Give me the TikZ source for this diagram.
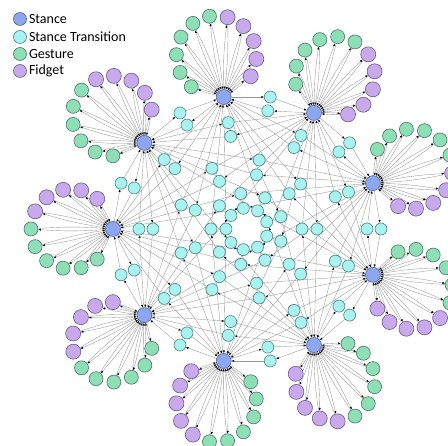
\documentclass[tikz,border=0pt]{standalone}
\usepackage{fontspec}
\setmainfont{Carlito}
\usetikzlibrary{arrows.meta,positioning,backgrounds}
\definecolor{stancefill}{RGB}{140,166,240}
\definecolor{stanceline}{RGB}{80,96,150}
\definecolor{transfill}{RGB}{168,242,240}
\definecolor{transline}{RGB}{70,130,135}
\definecolor{gesturefill}{RGB}{142,222,182}
\definecolor{gestureline}{RGB}{70,120,100}
\definecolor{fidgetfill}{RGB}{200,170,236}
\definecolor{fidgetline}{RGB}{105,90,135}
\definecolor{linkgray}{RGB}{150,150,150}
\tikzset{
  stance/.style={circle, draw=stanceline, fill=stancefill, line width=0.6pt, inner sep=0pt, minimum size=15pt},
  transition/.style={circle, draw=transline, fill=transfill, line width=0.6pt, inner sep=0pt, minimum size=12pt},
  gesture/.style={circle, draw=gestureline, fill=gesturefill, line width=0.6pt, inner sep=0pt, minimum size=14pt},
  fidget/.style={circle, draw=fidgetline, fill=fidgetfill, line width=0.6pt, inner sep=0pt, minimum size=15pt},
  link/.style={draw=linkgray, line width=0.35pt, -{Latex[length=2.6pt,width=2.2pt,color=black]}},
  legendtext/.style={font=\fontsize{14}{16}\selectfont, inner sep=0pt}
}

\begin{document}
\begin{tikzpicture}[x=1pt,y=1pt]
\useasboundingbox (0,0) rectangle (448,446);
\begin{scope}[shift={(247,217)}]
\foreach \k in {0,...,8}
  \node[stance] (s\k) at ({20+40*\k}:134) {};
\foreach \d/\rin/\rout in {1/120/134,2/94/108,3/55/70,4/21/36}
  \foreach \k in {0,...,8} {
    \node[transition] (t\d-\k-a) at ({20+40*\k+20*\d}:\rin) {};
    \node[transition] (t\d-\k-b) at ({20+40*\k+20*\d}:\rout) {};
  }
\foreach \k in {0,...,8}
  \foreach \j in {0,...,10} {
    \pgfmathsetmacro\fanang{200+40*\k-49-26.2*\j}
    \ifnum\j<6 \def\fankind{gesture}\else\def\fankind{fidget}\fi
    \node[\fankind] (f\k-\j) at ({176*cos(20+40*\k)+40*cos(\fanang)},{176*sin(20+40*\k)+40*sin(\fanang)}) {};
  }
\end{scope}

\begin{scope}[on background layer]
\foreach \d in {1,...,4}
  \foreach \k in {0,...,8} {
    \pgfmathtruncatemacro\m{mod(\k+\d,9)}
    \draw[link] (s\k) -- (t\d-\k-a);
    \draw[link] (t\d-\k-a) -- (s\m);
    \draw[link] (s\m) -- (t\d-\k-b);
    \draw[link] (t\d-\k-b) -- (s\k);
  }
\foreach \k in {0,...,8}
  \foreach \j in {0,...,10} {
    \draw[link] (s\k) to[bend left=4] (f\k-\j);
    \draw[link] (f\k-\j) to[bend left=4] (s\k);
  }
\end{scope}

\node[stance, minimum size=13pt] (legstance) at (20,427) {};
\node[legendtext, right=2pt of legstance] (legstancetext) {Stance};
\node[transition, minimum size=13pt] (legtrans) at (20,409) {};
\node[legendtext, right=2pt of legtrans] (legtranstext) {Stance Transition};
\node[gesture, minimum size=13pt] (leggesture) at (20,392) {};
\node[legendtext, right=2pt of leggesture] (leggesturetext) {Gesture};
\node[fidget, minimum size=13pt] (legfidget) at (20,375) {};
\node[legendtext, right=2pt of legfidget] (legfidgettext) {Fidget};
\end{tikzpicture}
\end{document}
